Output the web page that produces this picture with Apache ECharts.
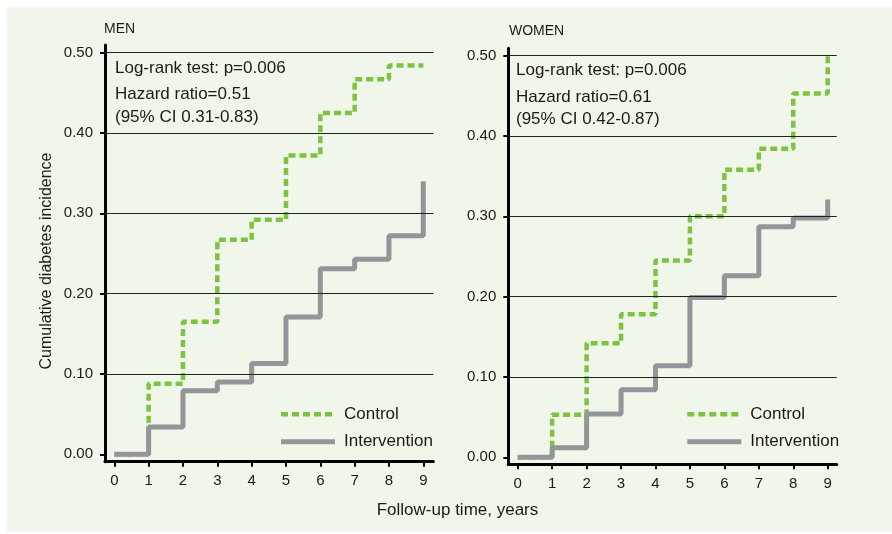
<!DOCTYPE html>
<html>
<head>
<meta charset="utf-8">
<script src="https://cdn.jsdelivr.net/npm/echarts@6/dist/echarts.min.js"></script>
<style>
  html, body { margin: 0; padding: 0; background: #ffffff; }
  #wrap { position: relative; width: 892px; height: 534px; }
  #panel { position: absolute; left: 7px; top: 7px; width: 885px; height: 525px; background: #f1f6eb; }
  #chart { position: absolute; left: 0; top: 0; width: 892px; height: 534px; }
</style>
</head>
<body>
<div id="wrap"><div id="panel"></div><div id="chart"></div></div>
<script>
// Follow-up years at which cumulative incidence is recorded
const years = [0, 1, 2, 3, 4, 5, 6, 7, 8, 9];

// Cumulative diabetes incidence, men
const menControl      = [0, 0.088, 0.165, 0.267, 0.292, 0.372, 0.425, 0.467, 0.484, 0.484];
const menIntervention = [0, 0.034, 0.079, 0.090, 0.113, 0.171, 0.231, 0.243, 0.272, 0.340];

// Cumulative diabetes incidence, women
const womenControl      = [0, 0.053, 0.142, 0.178, 0.245, 0.300, 0.358, 0.384, 0.453, 0.500];
const womenIntervention = [0, 0.012, 0.054, 0.084, 0.114, 0.199, 0.226, 0.287, 0.298, 0.321];

// Axis tick values
const yTicks = [0, 0.1, 0.2, 0.3, 0.4, 0.5];
const xTicks = years;
const gridValues = [0.1, 0.2, 0.3, 0.4, 0.5];

const panelTitles = ['MEN', 'WOMEN'];
const seriesNames = ['Control', 'Intervention'];
const statsMen   = ['Log-rank test: p=0.006', 'Hazard ratio=0.51', '(95% CI 0.31-0.83)'];
const statsWomen = ['Log-rank test: p=0.006', 'Hazard ratio=0.61', '(95% CI 0.42-0.87)'];

const GREEN = '#7dc242';
const GREY = '#939598';
const INK = '#1a1a1a';
const FONT = '"Liberation Sans", Arial, sans-serif';
const DASH = [7, 4];

const pairs = (vals) => years.map((x, i) => [x, vals[i]]);

function xAxisFor(gridIndex, min, max) {
  return {
    type: 'value', gridIndex, min, max,
    axisLine: { show: true, onZero: false, lineStyle: { color: '#000', width: 3 } },
    axisTick: { show: true, customValues: xTicks, length: 5, lineStyle: { color: '#000', width: 2 } },
    axisLabel: { customValues: xTicks, margin: 12, fontSize: 15, color: INK, fontFamily: FONT },
    splitLine: { show: false }
  };
}
function yAxisFor(gridIndex, min, max) {
  return {
    type: 'value', gridIndex, min, max,
    axisLine: { show: true, onZero: false, lineStyle: { color: '#000', width: 3 } },
    axisTick: { show: true, customValues: yTicks, length: 5, lineStyle: { color: '#000', width: 2 } },
    axisLabel: { customValues: yTicks, margin: 12, fontSize: 15, color: INK, fontFamily: FONT,
                 formatter: (v) => v.toFixed(2) },
    splitLine: { show: false }
  };
}
function controlSeries(idx, vals) {
  return {
    name: seriesNames[0], type: 'line', step: 'end', xAxisIndex: idx, yAxisIndex: idx,
    data: pairs(vals), symbol: 'none', z: 3,
    lineStyle: { color: GREEN, width: 4.5, type: DASH, cap: 'butt' },
    itemStyle: { color: GREEN },
    markLine: {
      silent: true, symbol: 'none', label: { show: false },
      lineStyle: { color: '#222', width: 1, type: 'solid' },
      data: gridValues.map(v => ({ yAxis: v }))
    }
  };
}
function interventionSeries(idx, vals) {
  return {
    name: seriesNames[1], type: 'line', step: 'end', xAxisIndex: idx, yAxisIndex: idx,
    data: pairs(vals), symbol: 'none', z: 4,
    lineStyle: { color: GREY, width: 5, type: 'solid', cap: 'butt' },
    itemStyle: { color: GREY }
  };
}
function textAt(x, y, text, size) {
  return {
    type: 'text', x, y,
    style: { text, fontSize: size, fontFamily: FONT, fill: INK, textVerticalAlign: 'middle' }
  };
}
// Key: a line sample followed by its label, one row per series
function keyRows(x, y) {
  return [
    { type: 'line', shape: { x1: x, y1: y, x2: x + 54, y2: y },
      style: { stroke: GREEN, lineWidth: 4.5, lineDash: DASH } },
    textAt(x + 63, y, seriesNames[0], 17),
    { type: 'line', shape: { x1: x, y1: y + 27.4, x2: x + 54, y2: y + 27.4 },
      style: { stroke: GREY, lineWidth: 5 } },
    textAt(x + 63, y + 27.4, seriesNames[1], 17)
  ];
}

const chart = echarts.init(document.getElementById('chart'), null, { renderer: 'canvas' });
chart.setOption({
  backgroundColor: 'transparent',
  animation: false,
  grid: [
    { left: 105, top: 45, width: 328.3, height: 416.7 },
    { left: 508.3, top: 48.3, width: 328.4, height: 416 }
  ],
  xAxis: [xAxisFor(0, -0.271, 9.291), xAxisFor(1, -0.273, 9.261)],
  yAxis: [yAxisFor(0, -0.0092, 0.5096), yAxisFor(1, -0.0087, 0.5092)],
  series: [
    controlSeries(0, menControl),
    interventionSeries(0, menIntervention),
    controlSeries(1, womenControl),
    interventionSeries(1, womenIntervention)
  ],
  graphic: [
    textAt(104, 29.5, panelTitles[0], 14),
    textAt(509, 31, panelTitles[1], 14),
    textAt(115, 68.3, statsMen[0], 17),
    textAt(115, 94.3, statsMen[1], 17),
    textAt(115, 117.3, statsMen[2], 17),
    textAt(516, 70, statsWomen[0], 17),
    textAt(516, 97.3, statsWomen[1], 17),
    textAt(516, 119.3, statsWomen[2], 17),
    ...keyRows(281, 414.3),
    ...keyRows(687.3, 414.3),
    {
      type: 'text', x: 47, y: 261, rotation: Math.PI / 2,
      style: { text: 'Cumulative diabetes incidence', fontSize: 16, fontFamily: FONT, fill: INK,
               textAlign: 'center', textVerticalAlign: 'middle' }
    },
    {
      type: 'text', x: 457.5, y: 510,
      style: { text: 'Follow-up time, years', fontSize: 17, fontFamily: FONT, fill: INK,
               textAlign: 'center', textVerticalAlign: 'middle' }
    }
  ]
});
</script>
</body>
</html>
